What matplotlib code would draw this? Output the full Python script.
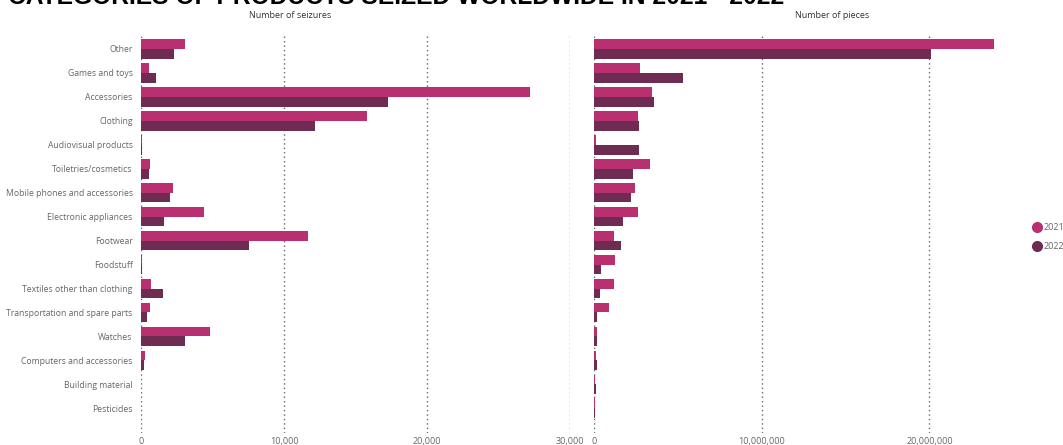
import matplotlib
matplotlib.use("Agg")
import matplotlib.pyplot as plt
import numpy as np
from matplotlib.lines import Line2D
from matplotlib.ticker import FuncFormatter

categories = [
    "Other", "Games and toys", "Accessories", "Clothing", "Audiovisual products",
    "Toiletries/cosmetics", "Mobile phones and accessories", "Electronic appliances",
    "Footwear", "Foodstuff", "Textiles other than clothing",
    "Transportation and spare parts", "Watches", "Computers and accessories",
    "Building material", "Pesticides",
]
seizures_2021 = [3100, 530, 27200, 15800, 80, 600, 2230, 4410,
                 11700, 50, 680, 600, 4810, 300, 30, 30]
seizures_2022 = [2280, 1080, 17300, 12200, 50, 580, 2000, 1600,
                 7570, 40, 1550, 450, 3100, 230, 30, 30]
pieces_2021 = [23840000, 2750000, 3460000, 2630000, 100000, 3340000, 2430000, 2630000,
               1170000, 1270000, 1210000, 920000, 200000, 140000, 60000, 40000]
pieces_2022 = [20080000, 5290000, 3560000, 2710000, 2670000, 2310000, 2230000, 1750000,
               1630000, 440000, 360000, 180000, 160000, 160000, 100000, 60000]

c21 = "#B8306F"
c22 = "#6E2C52"
grey = "#666666"

W, H = 1063, 445
fig = plt.figure(figsize=(W / 100, H / 100), dpi=100)
font = "Open Sans"


def box(x0, x1, y0, y1):
    return [x0 / W, 1 - y1 / H, (x1 - x0) / W, (y1 - y0) / H]


y = np.arange(len(categories))
bh = 0.41


def setup(ax, xmax, ticks, fmt):
    ax.set_xlim(0, xmax)
    ax.set_ylim(16.03, -0.58)
    ax.set_xticks(ticks)
    ax.xaxis.set_major_formatter(FuncFormatter(fmt))
    ax.grid(axis="x", color="#666666", linestyle=(0, (1, 2.2)), linewidth=1.0)
    ax.set_axisbelow(True)
    for s in ax.spines.values():
        s.set_visible(False)
    ax.tick_params(axis="x", length=0, pad=3, labelsize=6.5, labelcolor=grey)
    for t in ax.get_xticklabels():
        t.set_fontfamily(font)


ax1 = fig.add_axes(box(141, 570, 35, 433))
ax1.barh(y - bh / 2, seizures_2021, height=bh, color=c21)
ax1.barh(y + bh / 2, seizures_2022, height=bh, color=c22)
setup(ax1, 30000, [0, 10000, 20000, 30000], lambda v, p: f"{v:,.0f}")
ax1.set_yticks(y)
ax1.set_yticklabels(categories, fontfamily=font, fontsize=6.25, color=grey)
ax1.tick_params(axis="y", length=0, pad=6)

ax2 = fig.add_axes(box(594, 1030, 35, 433))
ax2.barh(y - bh / 2, pieces_2021, height=bh, color=c21)
ax2.barh(y + bh / 2, pieces_2022, height=bh, color=c22)
setup(ax2, 26.0e6, [0, 10e6, 20e6], lambda v, p: f"{v:,.0f}")
ax2.set_yticks([])

fig.text(290 / W, 1 - 15 / H, "Number of seizures", ha="center", va="center",
         fontsize=6.5, color="#333333", fontfamily=font)
fig.text(832 / W, 1 - 15 / H, "Number of pieces", ha="center", va="center",
         fontsize=6.5, color="#333333", fontfamily=font)
# the title is cropped at the top edge in the original screenshot
fig.text(8 / W, 1 - 3.5 / H, "CATEGORIES OF PRODUCTS SEIZED WORLDWIDE IN 2021 - 2022",
         ha="left", va="baseline", fontsize=17.7, fontweight="bold",
         fontfamily="Liberation Sans", color="black")

handles = [
    Line2D([], [], marker="o", linestyle="", color=c21, markersize=7, label="2021"),
    Line2D([], [], marker="o", linestyle="", color=c22, markersize=7, label="2022"),
]
fig.legend(handles=handles, loc="center left", bbox_to_anchor=(1028 / W, 1 - 237 / H),
           frameon=False, handletextpad=0.2, labelspacing=1.1, borderpad=0,
           prop={"family": font, "size": 6.5}, labelcolor=grey, handlelength=1.0)

fig.savefig("out.png", dpi=100)
